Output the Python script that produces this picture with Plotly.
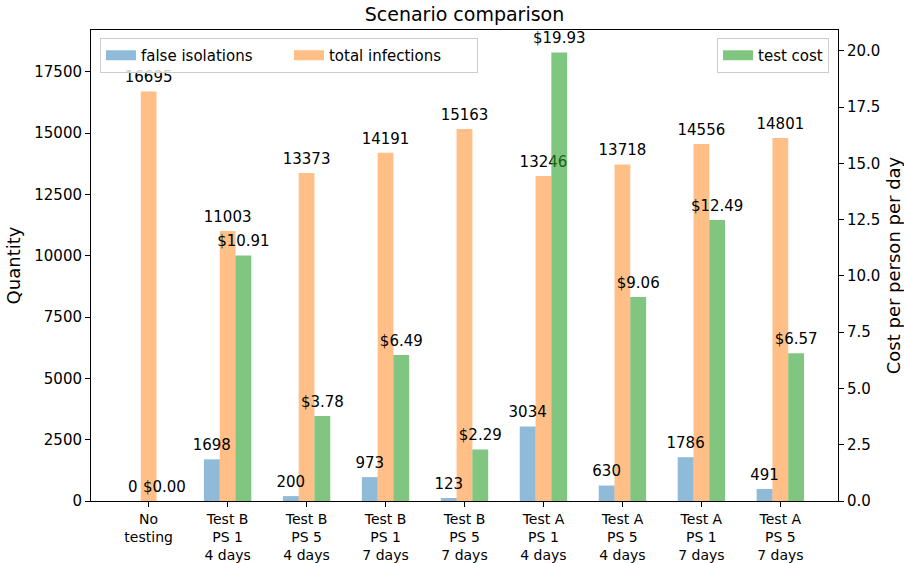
import numpy as np
import plotly.graph_objects as go

# Scenario labels (multi-line tick text)
scenarios = [
    "No<br>testing",
    "Test B<br>PS 1<br>4 days",
    "Test B<br>PS 5<br>4 days",
    "Test B<br>PS 1<br>7 days",
    "Test B<br>PS 5<br>7 days",
    "Test A<br>PS 1<br>4 days",
    "Test A<br>PS 5<br>4 days",
    "Test A<br>PS 1<br>7 days",
    "Test A<br>PS 5<br>7 days",
]
false_isolations = [0, 1698, 200, 973, 123, 3034, 630, 1786, 491]
total_infections = [16695, 11003, 13373, 14191, 15163, 13246, 13718, 14556, 14801]
test_cost = [0.00, 10.91, 3.78, 6.49, 2.29, 19.93, 9.06, 12.49, 6.57]

left_ticks = [0, 2500, 5000, 7500, 10000, 12500, 15000, 17500]
right_ticks = [0.0, 2.5, 5.0, 7.5, 10.0, 12.5, 15.0, 17.5, 20.0]

FONT = "DejaVu Sans"
idx = np.arange(len(scenarios))
w = 0.2

blue = "rgba(31,119,180,0.5)"
orange = "rgba(255,127,14,0.5)"
green = "rgba(44,160,44,0.6)"
label_font = dict(family=FONT, size=15, color="black")
# invisible marker keeps the value labels a few pixels clear of the bar tops
label_marker = dict(size=7, opacity=0)

fig = go.Figure()

# Quantity bars on the left axis
fig.add_trace(go.Bar(
    x=idx - w, y=false_isolations, width=w, name="false isolations",
    marker=dict(color=blue, line=dict(width=0)), showlegend=False,
    yaxis="y", hoverinfo="skip",
))
fig.add_trace(go.Bar(
    x=idx, y=total_infections, width=w, name="total infections",
    marker=dict(color=orange, line=dict(width=0)), showlegend=False,
    yaxis="y", hoverinfo="skip",
))
# Value labels for the quantity bars (drawn above both quantity series)
fig.add_trace(go.Scatter(
    x=idx - w, y=false_isolations, mode="markers+text", marker=label_marker,
    text=[str(v) for v in false_isolations], textposition="top center",
    textfont=label_font, showlegend=False, cliponaxis=False, yaxis="y",
    hoverinfo="skip",
))
fig.add_trace(go.Scatter(
    x=idx, y=total_infections, mode="markers+text", marker=label_marker,
    text=[str(v) for v in total_infections], textposition="top center",
    textfont=label_font, showlegend=False, cliponaxis=False, yaxis="y",
    hoverinfo="skip",
))

# Cost bars on the right axis (translucent, so labels beneath show through)
fig.add_trace(go.Bar(
    x=idx + w, y=test_cost, width=w, name="test cost",
    marker=dict(color=green, line=dict(width=0)), showlegend=False,
    yaxis="y2", hoverinfo="skip",
))
fig.add_trace(go.Scatter(
    x=idx + w, y=test_cost, mode="markers+text", marker=label_marker,
    text=[f"${v:.2f}" for v in test_cost], textposition="top center",
    textfont=label_font, showlegend=False, cliponaxis=False, yaxis="y2",
    hoverinfo="skip",
))

# Legend entries drawn as wide swatches
for name, color, leg in [("false isolations", blue, "legend"),
                         ("total infections", orange, "legend"),
                         ("test cost", green, "legend2")]:
    fig.add_trace(go.Scatter(
        x=[None], y=[None], mode="lines", name=name,
        line=dict(color=color, width=11), legend=leg, hoverinfo="skip",
    ))

axis_common = dict(
    showline=True, linecolor="black", linewidth=1,
    ticks="outside", ticklen=5, tickcolor="black", showgrid=False,
    zeroline=False, automargin=False,
)

fig.update_layout(
    width=904, height=563,
    margin=dict(l=91, r=66, t=30, b=62),
    paper_bgcolor="white", plot_bgcolor="white",
    font=dict(family=FONT, size=15, color="black"),
    barmode="overlay",
    title=dict(text="Scenario comparison", x=0.5, xref="paper",
               y=1 - 14 / 563, yref="container", yanchor="middle",
               xanchor="center", font=dict(size=19, color="black")),
    xaxis=dict(
        range=[-0.73, 8.73], tickmode="array", tickvals=idx, ticktext=scenarios,
        tickfont=dict(size=14), mirror=True, **axis_common,
    ),
    yaxis=dict(
        title=dict(text="Quantity", standoff=8),
        range=[0, 19199], tickmode="array", tickvals=left_ticks,
        ticktext=[str(t) for t in left_ticks],
        **axis_common,
    ),
    yaxis2=dict(
        title=dict(text="Cost per person per day", standoff=8),
        overlaying="y", side="right",
        range=[0, 20.93], tickmode="array", tickvals=right_ticks,
        ticktext=[f"{t:.1f}" for t in right_ticks],
        **axis_common,
    ),
    legend=dict(
        orientation="h", x=0.012, y=0.983, xanchor="left", yanchor="top",
        bgcolor="rgba(255,255,255,0.8)", bordercolor="#cccccc", borderwidth=1,
        font=dict(size=15), entrywidth=143,
    ),
    legend2=dict(
        x=0.988, y=0.983, xanchor="right", yanchor="top",
        bgcolor="rgba(255,255,255,0.8)", bordercolor="#cccccc", borderwidth=1,
        font=dict(size=15),
    ),
)

fig.write_html("out.html")
